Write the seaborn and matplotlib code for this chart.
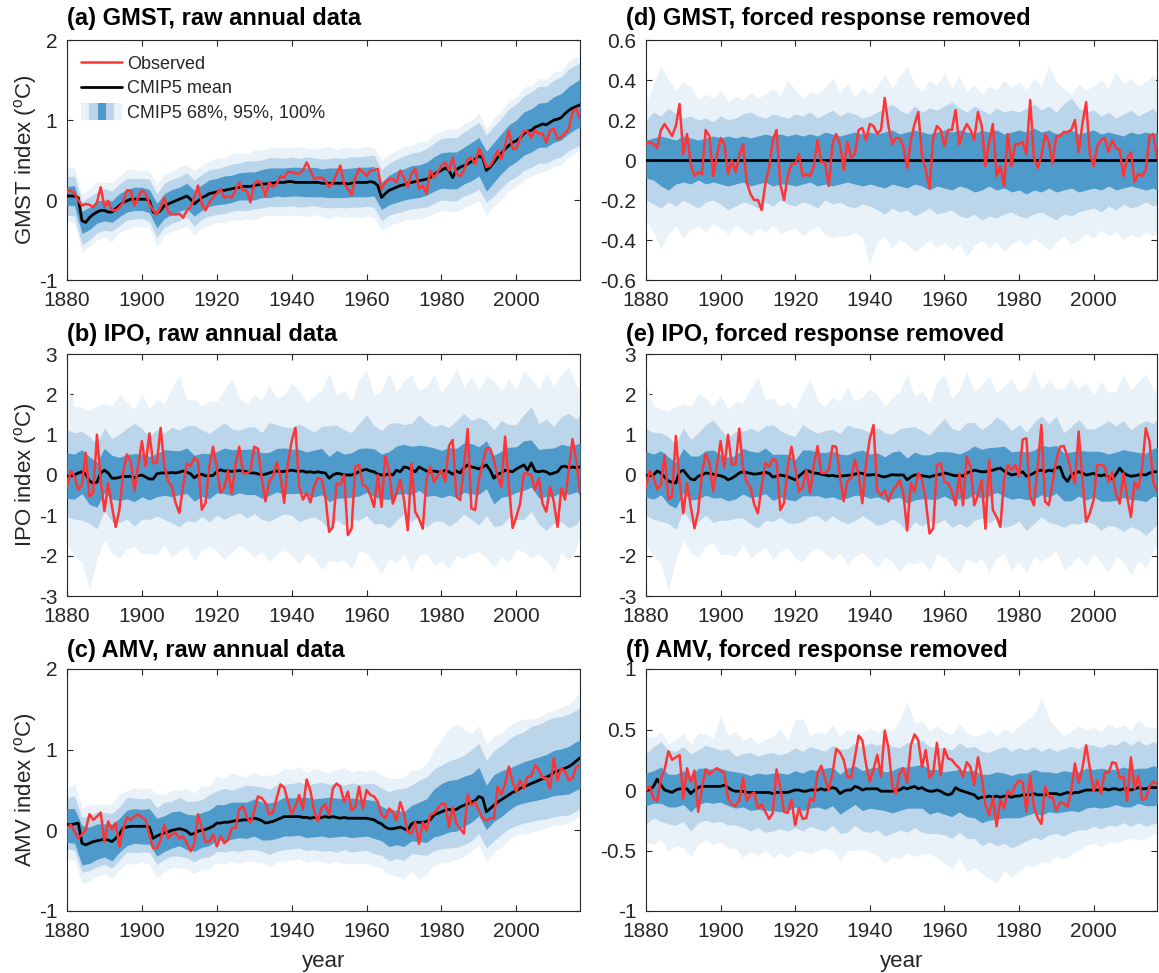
import numpy as np
import matplotlib
matplotlib.use("Agg")
import matplotlib.pyplot as plt
import seaborn as sns
from matplotlib.patches import Rectangle
from matplotlib.lines import Line2D
from matplotlib.legend_handler import HandlerBase
from matplotlib.ticker import FuncFormatter, MultipleLocator

# ---------------------------------------------------------------- data
years = np.arange(1880, 2018)
band_years = np.array(list(range(1880, 2017, 2)) + [2017])

# (a) GMST raw
a_obs = [0.10, 0.12, 0.08, 0.00, -0.07, -0.05, -0.06, -0.09, -0.03, 0.16,
         -0.09, -0.01, -0.13, -0.13, -0.09, -0.03, 0.12, 0.12, -0.07, 0.03,
         0.12, 0.08, -0.05, -0.13, -0.18, -0.09, 0.03, -0.15, -0.18, -0.18,
         -0.17, -0.22, -0.13, -0.09, 0.03, 0.18, -0.05, -0.13, -0.03, 0.03,
         0.08, 0.14, 0.03, 0.05, 0.03, 0.12, 0.22, 0.12, 0.12, -0.03,
         0.20, 0.24, 0.20, 0.05, 0.22, 0.16, 0.20, 0.30, 0.28, 0.35,
         0.35, 0.33, 0.33, 0.37, 0.47, 0.37, 0.26, 0.28, 0.28, 0.24,
         0.16, 0.22, 0.33, 0.43, 0.20, 0.14, 0.06, 0.28, 0.39, 0.35,
         0.30, 0.37, 0.37, 0.39, 0.14, 0.22, 0.26, 0.26, 0.22, 0.37,
         0.28, 0.16, 0.33, 0.39, 0.14, 0.18, 0.08, 0.37, 0.28, 0.35,
         0.43, 0.47, 0.37, 0.53, 0.33, 0.30, 0.37, 0.51, 0.53, 0.45,
         0.64, 0.55, 0.41, 0.43, 0.51, 0.62, 0.51, 0.68, 0.87, 0.64,
         0.64, 0.78, 0.86, 0.86, 0.78, 0.87, 0.83, 0.83, 0.72, 0.87,
         0.89, 0.76, 0.79, 0.83, 0.89, 1.10, 1.14, 1.01]
a_mean = [0.05, 0.05, 0.05, 0.03, -0.26, -0.28, -0.22, -0.18, -0.15, -0.13,
          -0.13, -0.15, -0.15, -0.11, -0.07, -0.03, -0.01, 0.01, 0.01, 0.01,
          0.01, 0.01, -0.01, -0.15, -0.17, -0.13, -0.07, -0.05, -0.03, -0.01,
          0.01, 0.03, 0.05, 0.01, -0.05, -0.01, 0.03, 0.05, 0.08, 0.09,
          0.10, 0.12, 0.12, 0.13, 0.14, 0.15, 0.16, 0.17, 0.17, 0.17,
          0.18, 0.19, 0.20, 0.20, 0.21, 0.21, 0.22, 0.22, 0.22, 0.23,
          0.23, 0.22, 0.22, 0.22, 0.22, 0.22, 0.22, 0.22, 0.21, 0.21,
          0.21, 0.21, 0.21, 0.21, 0.21, 0.20, 0.21, 0.22, 0.22, 0.22,
          0.22, 0.23, 0.22, 0.18, 0.03, 0.08, 0.12, 0.14, 0.16, 0.18,
          0.19, 0.21, 0.22, 0.23, 0.24, 0.25, 0.26, 0.28, 0.32, 0.35,
          0.37, 0.40, 0.37, 0.28, 0.38, 0.41, 0.43, 0.45, 0.48, 0.51,
          0.55, 0.53, 0.37, 0.41, 0.47, 0.53, 0.58, 0.64, 0.68, 0.72,
          0.74, 0.78, 0.83, 0.86, 0.87, 0.91, 0.93, 0.95, 0.94, 0.97,
          1.00, 1.01, 1.03, 1.08, 1.12, 1.15, 1.17, 1.19]
# band offsets above / below the ensemble mean, at band_years
a_hi68 = [0.12, 0.13, 0.12, 0.13, 0.14, 0.13, 0.14, 0.15, 0.14, 0.15,
          0.15, 0.14, 0.13, 0.15, 0.16, 0.15, 0.16, 0.17, 0.16, 0.17,
          0.17, 0.18, 0.17, 0.18, 0.18, 0.17, 0.18, 0.19, 0.18, 0.18,
          0.18, 0.19, 0.18, 0.19, 0.18, 0.19, 0.19, 0.18, 0.19, 0.19,
          0.19, 0.20, 0.19, 0.19, 0.20, 0.20, 0.21, 0.20, 0.21, 0.22,
          0.22, 0.23, 0.22, 0.23, 0.24, 0.23, 0.24, 0.25, 0.25, 0.26,
          0.26, 0.27, 0.27, 0.28, 0.28, 0.29, 0.30, 0.30, 0.31, 0.32]
a_lo68 = [0.12, 0.12, 0.16, 0.15, 0.14, 0.13, 0.13, 0.14, 0.14, 0.14,
          0.14, 0.15, 0.18, 0.16, 0.15, 0.15, 0.16, 0.15, 0.16, 0.16,
          0.16, 0.17, 0.17, 0.16, 0.17, 0.18, 0.17, 0.18, 0.17, 0.18,
          0.18, 0.17, 0.18, 0.18, 0.17, 0.18, 0.18, 0.18, 0.17, 0.18,
          0.18, 0.17, 0.15, 0.18, 0.19, 0.19, 0.20, 0.21, 0.20, 0.21,
          0.22, 0.23, 0.24, 0.23, 0.24, 0.25, 0.26, 0.25, 0.25, 0.26,
          0.26, 0.27, 0.27, 0.27, 0.28, 0.28, 0.28, 0.29, 0.28, 0.28]
a_hi95 = [0.24, 0.25, 0.24, 0.26, 0.25, 0.27, 0.26, 0.27, 0.28, 0.26,
          0.26, 0.27, 0.25, 0.28, 0.29, 0.28, 0.29, 0.30, 0.29, 0.30,
          0.29, 0.30, 0.31, 0.30, 0.32, 0.31, 0.30, 0.32, 0.31, 0.30,
          0.31, 0.30, 0.32, 0.31, 0.30, 0.31, 0.32, 0.31, 0.33, 0.32,
          0.33, 0.34, 0.35, 0.34, 0.35, 0.36, 0.37, 0.36, 0.38, 0.39,
          0.40, 0.41, 0.40, 0.42, 0.43, 0.42, 0.44, 0.45, 0.44, 0.46,
          0.46, 0.47, 0.48, 0.49, 0.48, 0.50, 0.51, 0.52, 0.52, 0.53]
a_lo95 = [0.24, 0.25, 0.30, 0.28, 0.26, 0.25, 0.24, 0.25, 0.24, 0.25,
          0.24, 0.26, 0.30, 0.27, 0.26, 0.27, 0.26, 0.28, 0.27, 0.28,
          0.28, 0.29, 0.28, 0.29, 0.30, 0.29, 0.30, 0.29, 0.30, 0.30,
          0.30, 0.31, 0.30, 0.29, 0.30, 0.31, 0.30, 0.31, 0.30, 0.31,
          0.30, 0.31, 0.29, 0.31, 0.32, 0.33, 0.33, 0.34, 0.35, 0.36,
          0.37, 0.38, 0.39, 0.38, 0.40, 0.41, 0.40, 0.42, 0.43, 0.44,
          0.45, 0.46, 0.46, 0.47, 0.48, 0.49, 0.49, 0.50, 0.51, 0.51]
a_hi100 = [0.36, 0.35, 0.33, 0.36, 0.38, 0.35, 0.37, 0.36, 0.39, 0.37,
           0.35, 0.38, 0.36, 0.40, 0.38, 0.41, 0.39, 0.42, 0.40, 0.41,
           0.43, 0.40, 0.44, 0.42, 0.41, 0.44, 0.42, 0.45, 0.43, 0.44,
           0.42, 0.45, 0.43, 0.41, 0.44, 0.46, 0.42, 0.45, 0.44, 0.43,
           0.45, 0.44, 0.47, 0.45, 0.46, 0.48, 0.46, 0.49, 0.47, 0.50,
           0.49, 0.52, 0.50, 0.53, 0.51, 0.54, 0.52, 0.55, 0.53, 0.56,
           0.55, 0.58, 0.56, 0.59, 0.57, 0.60, 0.58, 0.61, 0.62, 0.61]
a_lo100 = [0.32, 0.34, 0.40, 0.36, 0.35, 0.34, 0.37, 0.33, 0.36, 0.34,
           0.35, 0.33, 0.42, 0.37, 0.36, 0.38, 0.37, 0.39, 0.38, 0.40,
           0.38, 0.40, 0.39, 0.41, 0.40, 0.43, 0.41, 0.40, 0.42, 0.41,
           0.42, 0.41, 0.43, 0.40, 0.42, 0.44, 0.41, 0.43, 0.42, 0.44,
           0.42, 0.43, 0.41, 0.44, 0.45, 0.44, 0.46, 0.48, 0.47, 0.49,
           0.50, 0.51, 0.53, 0.52, 0.54, 0.55, 0.56, 0.55, 0.57, 0.56,
           0.57, 0.58, 0.57, 0.59, 0.58, 0.58, 0.59, 0.58, 0.57, 0.57]

# (b) IPO raw
b_obs = [-0.28, 0.10, -0.03, -0.36, -0.24, 0.55, -0.53, -0.44, 1.00, -0.11,
         -0.90, -0.20, -0.78, -1.29, -0.86, 0.05, 0.51, 0.34, -0.40, 0.22,
         0.84, 0.22, 1.03, 0.30, 0.30, 1.17, 0.22, -0.15, -0.28, -0.69,
         -0.94, -0.28, 0.29, 0.22, 0.43, 0.34, -0.86, -0.69, 0.22, 0.70,
         0.18, -0.44, -0.32, 0.10, -0.46, 0.26, 0.70, 0.05, 0.04, 0.10,
         0.70, 0.65, -0.07, -0.65, -0.15, -0.03, 0.32, -0.03, -0.69, 0.30,
         0.84, 1.17, -0.28, -0.61, -0.44, -0.68, -0.28, -0.07, -0.11, -0.53,
         -1.41, -1.29, -0.21, -0.25, 0.00, -1.49, -1.33, 0.21, 0.25, -0.25,
         -0.29, -0.50, -0.79, 0.00, -0.79, 0.46, 0.12, -0.71, -0.46, -0.12,
         -0.62, -1.37, 0.29, -0.91, -1.08, -1.33, -0.12, 0.21, -0.17, -0.02,
         0.12, -0.17, 0.72, 0.87, -0.54, -0.62, 0.21, 1.14, -0.83, -0.87,
         -0.12, 0.29, 0.66, 0.66, 0.37, -0.04, -0.29, 0.95, -0.25, -1.31,
         -1.04, -0.71, 0.04, 0.04, 0.00, -0.37, -0.08, -0.71, -0.91, -0.29,
         -0.66, -1.29, -0.33, -0.61, 0.12, 0.89, 0.37, -0.46]
b_mean = [-0.03, -0.02, 0.00, 0.05, 0.08, 0.02, -0.15, -0.20, -0.18, 0.05,
          0.12, 0.05, -0.08, -0.08, -0.06, -0.03, -0.04, -0.03, -0.07, -0.02,
          0.00, -0.05, -0.10, -0.10, 0.03, 0.05, 0.05, 0.05, 0.06, 0.05,
          0.07, 0.10, 0.07, 0.03, -0.07, 0.00, 0.02, -0.02, -0.02, -0.01,
          0.08, 0.13, 0.10, 0.10, 0.09, 0.10, 0.11, 0.10, 0.08, 0.05,
          0.05, 0.03, 0.00, 0.02, 0.05, 0.08, 0.10, 0.08, 0.09, 0.10,
          0.12, 0.10, 0.09, 0.10, 0.07, 0.08, 0.06, 0.08, 0.06, 0.05,
          -0.08, 0.00, 0.04, 0.03, 0.00, 0.00, 0.00, 0.04, 0.08, 0.12,
          0.14, 0.10, 0.08, 0.02, 0.00, 0.00, 0.03, 0.00, 0.12, 0.08,
          0.20, 0.18, 0.13, 0.08, 0.20, 0.15, 0.10, 0.08, 0.10, 0.08,
          0.06, 0.12, 0.08, 0.02, 0.10, 0.05, 0.18, 0.25, 0.20, 0.18,
          0.15, 0.20, 0.25, 0.12, -0.08, 0.02, 0.05, 0.12, 0.10, 0.08,
          0.15, 0.20, 0.25, 0.12, 0.30, 0.10, 0.08, 0.10, 0.08, 0.02,
          0.05, 0.08, 0.20, 0.22, 0.18, 0.20, 0.18, 0.20]
# IPO band offsets (same ensemble spread for raw and forced-removed IPO)
ipo_hi68 = [0.58, 0.52, 0.55, 0.60, 0.50, 0.54, 0.57, 0.50, 0.55, 0.60,
            0.52, 0.56, 0.50, 0.58, 0.55, 0.53, 0.60, 0.56, 0.52, 0.55,
            0.50, 0.57, 0.54, 0.52, 0.56, 0.60, 0.55, 0.51, 0.56, 0.58,
            0.52, 0.55, 0.50, 0.56, 0.60, 0.54, 0.57, 0.52, 0.55, 0.58,
            0.53, 0.57, 0.52, 0.55, 0.60, 0.56, 0.58, 0.54, 0.62, 0.57,
            0.55, 0.60, 0.56, 0.62, 0.58, 0.55, 0.60, 0.57, 0.54, 0.59,
            0.55, 0.60, 0.57, 0.55, 0.58, 0.62, 0.56, 0.54, 0.58, 0.60]
ipo_lo68 = [0.55, 0.60, 0.54, 0.58, 0.62, 0.56, 0.52, 0.57, 0.55, 0.59,
            0.54, 0.52, 0.57, 0.55, 0.60, 0.56, 0.53, 0.58, 0.55, 0.57,
            0.52, 0.56, 0.60, 0.55, 0.57, 0.53, 0.58, 0.56, 0.52, 0.55,
            0.58, 0.54, 0.57, 0.60, 0.55, 0.58, 0.62, 0.57, 0.55, 0.60,
            0.57, 0.62, 0.59, 0.64, 0.60, 0.66, 0.62, 0.58, 0.63, 0.60,
            0.62, 0.58, 0.65, 0.61, 0.67, 0.63, 0.59, 0.64, 0.60, 0.62,
            0.58, 0.63, 0.60, 0.65, 0.61, 0.58, 0.62, 0.66, 0.60, 0.63]
ipo_hi95 = [1.15, 1.05, 1.00, 1.10, 0.95, 1.05, 0.98, 1.08, 1.20, 1.35,
            1.15, 1.05, 1.10, 1.00, 1.12, 1.05, 1.15, 1.30, 1.10, 1.05,
            1.08, 1.20, 1.05, 1.00, 1.10, 1.15, 1.05, 1.25, 1.15, 1.10,
            1.05, 1.18, 1.10, 1.00, 1.15, 1.30, 1.20, 1.12, 1.05, 1.20,
            1.35, 1.15, 1.10, 1.25, 1.18, 1.05, 1.15, 1.30, 1.22, 1.10,
            1.20, 1.10, 1.25, 1.35, 1.15, 1.28, 1.10, 1.20, 1.30, 1.15,
            1.10, 1.25, 1.40, 1.20, 1.30, 1.15, 1.25, 1.35, 1.20, 1.30]
ipo_lo95 = [1.00, 1.10, 1.20, 1.05, 1.15, 1.00, 1.08, 1.12, 1.05, 1.20,
            1.10, 1.00, 1.05, 1.15, 1.25, 1.35, 1.20, 1.10, 1.05, 1.15,
            1.08, 1.20, 1.10, 1.05, 1.15, 1.00, 1.10, 1.20, 1.15, 1.05,
            1.12, 1.25, 1.15, 1.10, 1.20, 1.30, 1.15, 1.25, 1.10, 1.20,
            1.15, 1.30, 1.20, 1.35, 1.25, 1.15, 1.30, 1.20, 1.40, 1.25,
            1.20, 1.35, 1.25, 1.15, 1.30, 1.40, 1.25, 1.20, 1.30, 1.15,
            1.25, 1.35, 1.20, 1.30, 1.45, 1.25, 1.35, 1.50, 1.40, 1.30]
ipo_hi100 = [2.25, 1.70, 1.60, 1.75, 1.90, 1.65, 1.80, 2.05, 1.85, 1.70,
             2.00, 1.75, 1.85, 1.70, 2.10, 2.40, 1.80, 1.95, 1.70, 1.85,
             1.75, 2.00, 2.30, 1.80, 1.70, 1.95, 1.85, 2.20, 1.80, 1.90,
             2.15, 2.00, 1.75, 1.90, 2.05, 2.60, 1.95, 2.10, 1.85, 2.30,
             2.45, 1.90, 2.10, 2.50, 1.95, 2.15, 2.35, 1.90, 2.10, 2.40,
             2.00, 2.20, 2.55, 2.00, 2.25, 1.95, 2.20, 2.40, 2.05, 2.30,
             1.95, 2.35, 2.10, 2.05, 2.45, 2.15, 2.30, 2.50, 2.05, 1.95]
ipo_lo100 = [1.70, 2.00, 2.25, 2.70, 1.90, 1.75, 1.85, 2.00, 1.80, 1.70,
             1.95, 1.85, 2.00, 1.80, 2.10, 1.95, 1.85, 2.05, 1.90, 1.75,
             1.95, 2.20, 2.00, 1.85, 1.95, 2.10, 1.90, 2.20, 2.05, 1.95,
             2.10, 2.30, 2.00, 2.15, 2.40, 2.05, 2.20, 2.10, 2.35, 1.95,
             2.10, 2.25, 2.45, 2.10, 2.30, 2.15, 2.50, 2.20, 2.05, 2.35,
             2.20, 2.40, 2.10, 2.25, 2.15, 2.05, 2.30, 2.20, 2.10, 2.25,
             2.00, 2.15, 2.35, 2.05, 2.20, 2.45, 2.10, 2.30, 2.00, 1.70]

# (c) AMV raw
c_obs = [0.03, 0.07, -0.01, -0.10, -0.05, 0.01, 0.20, 0.13, 0.17, 0.22,
         -0.14, 0.11, 0.01, 0.09, -0.20, 0.01, 0.16, 0.13, 0.17, 0.20,
         0.16, 0.13, -0.05, -0.22, -0.22, -0.12, 0.07, -0.10, -0.05, -0.03,
         -0.10, -0.07, -0.16, -0.26, -0.16, 0.20, 0.03, -0.14, -0.14, -0.05,
         -0.20, -0.07, -0.16, -0.12, 0.03, 0.03, 0.26, 0.30, 0.17, 0.09,
         0.24, 0.42, 0.40, 0.34, 0.20, 0.22, 0.40, 0.57, 0.53, 0.36,
         0.20, 0.30, 0.44, 0.26, 0.63, 0.49, 0.24, 0.11, 0.28, 0.32,
         0.19, 0.52, 0.58, 0.54, 0.35, 0.48, 0.25, 0.29, 0.54, 0.27,
         0.50, 0.44, 0.42, 0.35, 0.19, 0.15, 0.27, 0.23, 0.12, 0.35,
         0.21, -0.02, -0.04, 0.10, -0.17, 0.10, 0.00, 0.19, 0.21, 0.27,
         0.33, 0.33, 0.04, 0.29, 0.08, 0.02, -0.04, 0.44, 0.31, 0.35,
         0.25, 0.15, 0.12, 0.15, 0.15, 0.54, 0.44, 0.58, 0.79, 0.60,
         0.48, 0.62, 0.52, 0.67, 0.67, 0.81, 0.75, 0.65, 0.65, 0.52,
         0.90, 0.62, 0.77, 0.73, 0.62, 0.65, 0.79, 0.81]
c_mean = [0.07, 0.07, 0.08, 0.09, -0.16, -0.18, -0.16, -0.14, -0.13, -0.12,
          -0.11, -0.12, -0.14, -0.10, -0.05, 0.03, 0.04, 0.05, 0.05, 0.05,
          0.05, 0.05, 0.04, -0.10, -0.07, -0.05, -0.03, -0.02, 0.00, 0.01,
          0.02, 0.01, -0.01, -0.05, -0.04, -0.01, 0.00, 0.01, 0.03, 0.05,
          0.09, 0.09, 0.10, 0.10, 0.11, 0.12, 0.12, 0.13, 0.13, 0.14,
          0.15, 0.14, 0.12, 0.09, 0.10, 0.11, 0.13, 0.15, 0.17, 0.17,
          0.17, 0.17, 0.17, 0.16, 0.16, 0.15, 0.16, 0.15, 0.16, 0.17,
          0.16, 0.17, 0.16, 0.15, 0.16, 0.15, 0.15, 0.15, 0.15, 0.15,
          0.15, 0.14, 0.13, 0.10, 0.08, 0.04, 0.02, 0.02, 0.03, 0.04,
          0.02, 0.00, 0.08, 0.10, 0.10, 0.10, 0.11, 0.13, 0.19, 0.21,
          0.23, 0.25, 0.26, 0.25, 0.26, 0.29, 0.31, 0.33, 0.35, 0.37,
          0.42, 0.40, 0.23, 0.27, 0.31, 0.35, 0.38, 0.41, 0.44, 0.47,
          0.49, 0.52, 0.54, 0.56, 0.58, 0.60, 0.62, 0.64, 0.66, 0.68,
          0.72, 0.73, 0.75, 0.77, 0.79, 0.82, 0.86, 0.90]
c_hi68 = [0.20, 0.19, 0.22, 0.20, 0.21, 0.19, 0.22, 0.20, 0.21, 0.22,
          0.21, 0.23, 0.22, 0.21, 0.23, 0.22, 0.21, 0.23, 0.22, 0.22,
          0.23, 0.22, 0.24, 0.23, 0.22, 0.24, 0.23, 0.24, 0.23, 0.24,
          0.23, 0.24, 0.25, 0.23, 0.24, 0.25, 0.24, 0.23, 0.25, 0.24,
          0.23, 0.24, 0.22, 0.23, 0.22, 0.21, 0.23, 0.25, 0.28, 0.32,
          0.35, 0.36, 0.37, 0.36, 0.35, 0.36, 0.33, 0.38, 0.36, 0.33,
          0.32, 0.31, 0.30, 0.29, 0.28, 0.27, 0.26, 0.25, 0.24, 0.22]
c_lo68 = [0.22, 0.24, 0.27, 0.25, 0.23, 0.22, 0.24, 0.22, 0.23, 0.21,
          0.22, 0.21, 0.25, 0.23, 0.22, 0.21, 0.23, 0.22, 0.21, 0.22,
          0.21, 0.23, 0.22, 0.21, 0.23, 0.22, 0.24, 0.22, 0.23, 0.24,
          0.24, 0.23, 0.25, 0.24, 0.23, 0.25, 0.24, 0.23, 0.24, 0.23,
          0.22, 0.23, 0.21, 0.22, 0.21, 0.22, 0.21, 0.24, 0.26, 0.27,
          0.29, 0.28, 0.27, 0.26, 0.25, 0.24, 0.22, 0.20, 0.21, 0.19,
          0.18, 0.20, 0.22, 0.24, 0.26, 0.29, 0.31, 0.34, 0.36, 0.38]
c_hi95 = [0.33, 0.35, 0.32, 0.34, 0.36, 0.33, 0.35, 0.34, 0.37, 0.35,
          0.34, 0.36, 0.35, 0.38, 0.36, 0.39, 0.37, 0.40, 0.38, 0.41,
          0.40, 0.42, 0.39, 0.41, 0.43, 0.40, 0.42, 0.41, 0.43, 0.40,
          0.41, 0.43, 0.40, 0.42, 0.44, 0.41, 0.43, 0.40, 0.44, 0.42,
          0.43, 0.45, 0.44, 0.46, 0.48, 0.50, 0.48, 0.52, 0.55, 0.57,
          0.58, 0.60, 0.63, 0.62, 0.65, 0.66, 0.64, 0.68, 0.67, 0.69,
          0.70, 0.68, 0.71, 0.69, 0.70, 0.68, 0.66, 0.65, 0.63, 0.62]
c_lo95 = [0.30, 0.33, 0.36, 0.34, 0.32, 0.31, 0.33, 0.32, 0.31, 0.33,
          0.32, 0.31, 0.35, 0.33, 0.32, 0.34, 0.33, 0.35, 0.34, 0.36,
          0.35, 0.37, 0.36, 0.38, 0.37, 0.39, 0.38, 0.40, 0.39, 0.41,
          0.40, 0.39, 0.41, 0.40, 0.42, 0.41, 0.43, 0.40, 0.42, 0.41,
          0.40, 0.42, 0.39, 0.40, 0.38, 0.39, 0.37, 0.40, 0.42, 0.44,
          0.46, 0.48, 0.47, 0.49, 0.48, 0.46, 0.45, 0.44, 0.43, 0.42,
          0.43, 0.45, 0.47, 0.49, 0.52, 0.55, 0.57, 0.60, 0.62, 0.63]
c_hi100 = [0.45, 0.50, 0.44, 0.48, 0.46, 0.43, 0.47, 0.50, 0.45, 0.48,
           0.46, 0.49, 0.52, 0.47, 0.50, 0.48, 0.53, 0.50, 0.55, 0.52,
           0.58, 0.54, 0.60, 0.56, 0.53, 0.57, 0.55, 0.59, 0.56, 0.60,
           0.58, 0.62, 0.56, 0.60, 0.58, 0.55, 0.59, 0.62, 0.57, 0.60,
           0.58, 0.62, 0.60, 0.63, 0.61, 0.64, 0.67, 0.65, 0.72, 0.80,
           0.90, 1.00, 1.06, 0.95, 0.85, 0.88, 0.84, 0.86, 0.82, 0.85,
           0.86, 0.84, 0.80, 0.78, 0.80, 0.76, 0.78, 0.77, 0.80, 0.81]
c_lo100 = [0.42, 0.45, 0.50, 0.47, 0.44, 0.43, 0.46, 0.44, 0.45, 0.47,
           0.44, 0.46, 0.52, 0.48, 0.46, 0.49, 0.47, 0.50, 0.48, 0.51,
           0.49, 0.52, 0.50, 0.53, 0.51, 0.54, 0.52, 0.55, 0.53, 0.55,
           0.54, 0.52, 0.56, 0.53, 0.55, 0.57, 0.54, 0.58, 0.55, 0.57,
           0.56, 0.58, 0.55, 0.57, 0.60, 0.62, 0.58, 0.70, 0.65, 0.62,
           0.63, 0.65, 0.62, 0.64, 0.61, 0.60, 0.62, 0.58, 0.59, 0.56,
           0.55, 0.58, 0.60, 0.62, 0.63, 0.66, 0.68, 0.70, 0.71, 0.71]

# (d) GMST, forced response removed
d_obs = [0.08, 0.09, 0.08, 0.06, 0.15, 0.18, 0.15, 0.12, 0.17, 0.28,
         0.03, 0.13, -0.02, -0.08, -0.06, -0.07, 0.15, 0.12, -0.08, 0.02,
         0.11, 0.08, -0.07, 0.00, -0.06, 0.02, 0.08, -0.11, -0.17, -0.20,
         -0.20, -0.25, -0.12, -0.04, 0.10, 0.15, -0.12, -0.20, -0.08, -0.02,
         -0.02, 0.03, -0.08, -0.07, -0.08, -0.03, 0.10, -0.01, -0.01, -0.13,
         0.08, 0.13, 0.08, -0.05, 0.09, 0.01, 0.03, 0.15, 0.16, 0.10,
         0.18, 0.17, 0.13, 0.15, 0.31, 0.17, 0.08, 0.11, 0.11, 0.07,
         -0.04, 0.10, 0.18, 0.24, 0.02, -0.05, -0.14, 0.11, 0.17, 0.15,
         0.07, 0.15, 0.15, 0.25, 0.08, 0.14, 0.18, 0.15, 0.10, 0.24,
         0.17, -0.03, 0.09, 0.18, -0.08, -0.03, -0.13, 0.13, -0.03, 0.08,
         0.08, 0.09, 0.03, 0.30, 0.01, -0.04, 0.02, 0.13, 0.09, -0.02,
         0.12, 0.12, 0.14, 0.14, 0.15, 0.20, 0.04, 0.18, 0.29, 0.03,
         -0.03, 0.07, 0.10, 0.11, 0.04, 0.10, 0.06, 0.05, -0.08, 0.01,
         0.04, -0.11, -0.07, -0.08, -0.05, 0.12, 0.13, 0.01]
d_mean = [0.0] * 138
d_hi68 = [0.10, 0.11, 0.12, 0.11, 0.10, 0.12, 0.11, 0.10, 0.11, 0.12,
          0.11, 0.12, 0.11, 0.12, 0.11, 0.12, 0.13, 0.12, 0.13, 0.12,
          0.13, 0.12, 0.13, 0.12, 0.14, 0.13, 0.12, 0.13, 0.14, 0.13,
          0.14, 0.13, 0.14, 0.15, 0.13, 0.14, 0.15, 0.14, 0.13, 0.14,
          0.15, 0.14, 0.15, 0.14, 0.13, 0.15, 0.14, 0.15, 0.13, 0.14,
          0.15, 0.14, 0.16, 0.14, 0.15, 0.13, 0.14, 0.15, 0.13, 0.14,
          0.15, 0.13, 0.14, 0.13, 0.12, 0.14, 0.13, 0.14, 0.13, 0.14]
d_lo68 = [0.09, 0.10, 0.13, 0.15, 0.12, 0.11, 0.12, 0.10, 0.12, 0.11,
          0.12, 0.13, 0.12, 0.11, 0.13, 0.12, 0.11, 0.13, 0.12, 0.12,
          0.13, 0.12, 0.11, 0.13, 0.12, 0.13, 0.12, 0.11, 0.12, 0.13,
          0.12, 0.13, 0.14, 0.12, 0.13, 0.14, 0.12, 0.13, 0.15, 0.13,
          0.14, 0.15, 0.13, 0.14, 0.16, 0.15, 0.13, 0.15, 0.14, 0.16,
          0.15, 0.17, 0.15, 0.16, 0.14, 0.16, 0.15, 0.14, 0.16, 0.15,
          0.14, 0.15, 0.13, 0.15, 0.14, 0.13, 0.14, 0.15, 0.14, 0.15]
d_hi95 = [0.20, 0.24, 0.22, 0.26, 0.23, 0.21, 0.22, 0.20, 0.21, 0.19,
          0.22, 0.20, 0.21, 0.23, 0.24, 0.22, 0.21, 0.23, 0.22, 0.21,
          0.23, 0.22, 0.24, 0.21, 0.23, 0.25, 0.22, 0.24, 0.23, 0.21,
          0.22, 0.24, 0.26, 0.28, 0.25, 0.23, 0.27, 0.24, 0.26, 0.25,
          0.27, 0.29, 0.26, 0.24, 0.27, 0.25, 0.23, 0.26, 0.24, 0.25,
          0.24, 0.26, 0.28, 0.25, 0.27, 0.24, 0.28, 0.31, 0.26, 0.24,
          0.25, 0.22, 0.24, 0.21, 0.23, 0.25, 0.22, 0.24, 0.26, 0.23]
d_lo95 = [0.20, 0.22, 0.24, 0.21, 0.23, 0.20, 0.22, 0.24, 0.21, 0.20,
          0.22, 0.25, 0.23, 0.21, 0.22, 0.24, 0.21, 0.23, 0.20, 0.22,
          0.23, 0.21, 0.22, 0.24, 0.20, 0.22, 0.21, 0.23, 0.24, 0.22,
          0.23, 0.25, 0.27, 0.24, 0.26, 0.25, 0.28, 0.26, 0.24, 0.27,
          0.26, 0.25, 0.28, 0.29, 0.27, 0.30, 0.28, 0.29, 0.27, 0.26,
          0.28, 0.29, 0.27, 0.26, 0.28, 0.30, 0.27, 0.28, 0.26, 0.25,
          0.24, 0.26, 0.23, 0.25, 0.22, 0.24, 0.23, 0.21, 0.23, 0.22]
d_hi100 = [0.28, 0.38, 0.47, 0.40, 0.35, 0.39, 0.37, 0.30, 0.33, 0.31,
           0.35, 0.29, 0.32, 0.30, 0.34, 0.31, 0.33, 0.36, 0.32, 0.40,
           0.35, 0.31, 0.34, 0.33, 0.36, 0.41, 0.34, 0.38, 0.32, 0.36,
           0.33, 0.37, 0.43, 0.36, 0.42, 0.47, 0.38, 0.34, 0.40, 0.37,
           0.44, 0.36, 0.42, 0.34, 0.38, 0.33, 0.37, 0.35, 0.40, 0.36,
           0.39, 0.35, 0.41, 0.37, 0.48, 0.39, 0.36, 0.33, 0.38, 0.35,
           0.37, 0.40, 0.36, 0.44, 0.38, 0.41, 0.37, 0.39, 0.43, 0.38]
d_lo100 = [0.30, 0.36, 0.44, 0.37, 0.33, 0.39, 0.35, 0.33, 0.36, 0.32,
           0.34, 0.37, 0.33, 0.35, 0.38, 0.34, 0.36, 0.33, 0.37, 0.35,
           0.34, 0.38, 0.35, 0.33, 0.37, 0.39, 0.38, 0.38, 0.36, 0.39,
           0.52, 0.41, 0.38, 0.44, 0.40, 0.42, 0.46, 0.43, 0.40, 0.44,
           0.41, 0.45, 0.42, 0.48, 0.43, 0.40, 0.44, 0.41, 0.46, 0.42,
           0.40, 0.43, 0.39, 0.42, 0.45, 0.41, 0.38, 0.42, 0.40, 0.37,
           0.39, 0.35, 0.38, 0.36, 0.40, 0.37, 0.39, 0.36, 0.38, 0.35]

# (e) IPO, forced response removed
e_obs = [-0.28, 0.10, -0.05, -0.36, -0.24, 0.50, -0.60, -0.53, 0.97, -0.15,
         -0.95, -0.20, -0.78, -1.32, -0.90, 0.05, 0.53, 0.30, -0.40, 0.22,
         0.84, 0.18, 1.00, 0.26, 0.26, 1.15, 0.18, -0.18, -0.30, -0.72,
         -0.95, -0.28, 0.30, 0.20, 0.40, 0.35, -0.87, -0.70, 0.22, 0.70,
         0.18, -0.42, -0.30, 0.12, -0.45, 0.26, 0.72, 0.05, 0.05, 0.12,
         0.72, 0.70, -0.03, -0.65, -0.15, -0.08, 0.38, 0.00, -0.70, 0.30,
         0.90, 1.24, -0.40, -0.50, -0.38, -0.66, -0.40, -0.28, -0.12, -0.45,
         -1.37, -0.20, -0.42, 0.05, -0.12, -0.62, -1.45, -1.32, 0.25, 0.29,
         -0.17, -0.20, -0.42, -0.75, 0.04, -0.75, 0.46, 0.21, -0.75, -0.50,
         -0.12, -1.33, 0.38, -0.87, -1.04, -1.29, -0.12, 0.25, 0.12, 0.25,
         -0.04, 0.88, 0.91, -0.54, -0.75, 0.21, 1.24, -0.66, -0.75, -0.21,
         0.37, 0.70, 0.72, 0.46, 0.08, -0.21, 1.08, -0.12, -1.16, -0.95,
         -0.62, 0.25, 0.25, 0.21, -0.17, 0.08, -0.46, -0.71, 0.04, -0.54,
         -1.04, -0.17, -0.33, 0.17, 1.16, 0.83, -0.17, -0.40]
e_mean = [0.00, -0.02, 0.00, 0.10, 0.05, -0.05, -0.15, -0.18, -0.20, 0.08,
          0.12, 0.00, -0.10, -0.12, -0.03, 0.00, 0.05, 0.04, 0.02, 0.00,
          -0.02, -0.05, -0.12, -0.08, -0.02, 0.05, 0.08, 0.06, 0.04, 0.02,
          0.03, 0.05, 0.07, 0.04, -0.05, -0.03, 0.00, -0.02, -0.04, -0.08,
          -0.12, -0.03, 0.05, 0.12, 0.08, 0.05, 0.04, 0.02, 0.00, -0.02,
          -0.01, -0.03, -0.03, -0.02, -0.01, 0.00, 0.02, 0.05, 0.04, 0.00,
          0.00, 0.01, 0.00, -0.03, -0.05, -0.02, 0.01, 0.00, 0.00, 0.00,
          -0.12, -0.05, 0.00, 0.00, -0.02, -0.03, -0.05, -0.02, 0.00, 0.02,
          0.05, 0.03, 0.00, -0.02, 0.00, -0.03, 0.05, 0.08, 0.12, 0.10,
          0.08, 0.08, 0.10, 0.12, 0.15, 0.17, 0.10, 0.05, 0.00, 0.02,
          0.05, 0.08, -0.03, 0.00, 0.05, 0.10, 0.12, 0.08, 0.12, 0.10,
          0.18, 0.20, -0.05, -0.16, 0.00, 0.05, 0.08, 0.05, 0.00, 0.02,
          0.04, 0.00, -0.02, 0.01, -0.05, -0.10, 0.02, 0.17, 0.05, 0.00,
          -0.03, -0.02, 0.00, 0.01, 0.00, 0.05, 0.08, 0.08]

# (f) AMV, forced response removed
f_obs = [0.00, 0.03, -0.07, -0.09, 0.10, 0.17, 0.32, 0.25, 0.27, 0.29,
         -0.07, 0.18, 0.07, 0.16, -0.18, 0.02, 0.17, 0.13, 0.16, 0.18,
         0.16, 0.14, -0.07, -0.12, -0.13, -0.09, 0.10, -0.09, -0.04, -0.02,
         -0.15, -0.12, -0.18, -0.24, -0.19, 0.17, 0.02, -0.18, -0.19, -0.08,
         -0.29, -0.15, -0.24, -0.23, -0.07, -0.09, 0.14, 0.20, 0.09, 0.00,
         0.14, 0.34, 0.31, 0.25, 0.11, 0.10, 0.27, 0.45, 0.41, 0.21,
         0.07, 0.17, 0.29, 0.11, 0.49, 0.35, 0.04, -0.03, 0.14, 0.18,
         0.06, 0.37, 0.46, 0.41, 0.19, 0.33, 0.10, 0.14, 0.39, 0.12,
         0.34, 0.26, 0.25, 0.21, 0.18, 0.11, 0.23, 0.19, 0.04, 0.27,
         0.11, -0.12, -0.21, -0.06, -0.30, -0.08, -0.15, -0.01, -0.04, 0.04,
         0.08, 0.06, -0.18, 0.12, -0.14, -0.23, -0.28, 0.03, -0.06, -0.06,
         -0.17, -0.10, -0.11, -0.14, -0.01, 0.22, 0.06, 0.18, 0.37, 0.18,
         -0.01, 0.08, -0.03, 0.15, 0.14, 0.23, 0.22, 0.10, 0.11, -0.09,
         0.27, 0.01, 0.12, -0.08, -0.07, 0.03, 0.07, 0.05]
f_mean = [0.00, 0.00, 0.03, 0.09, 0.04, 0.00, -0.01, -0.02, 0.00, 0.01,
          0.01, 0.01, -0.03, 0.00, 0.02, 0.03, 0.03, 0.03, 0.03, 0.03,
          0.03, 0.04, 0.02, 0.00, -0.01, -0.01, -0.01, -0.02, -0.02, -0.02,
          -0.02, -0.02, -0.02, -0.02, -0.03, -0.02, -0.02, -0.02, -0.02, -0.01,
          0.00, 0.00, -0.01, -0.01, 0.00, 0.00, 0.00, 0.01, 0.00, 0.01,
          0.02, 0.01, -0.03, -0.01, 0.00, 0.00, 0.03, 0.02, 0.00, 0.01,
          0.01, 0.01, 0.01, -0.01, -0.01, -0.01, -0.01, 0.00, 0.00, 0.02,
          0.01, 0.02, 0.03, 0.01, 0.02, 0.00, -0.01, -0.01, 0.00, -0.01,
          -0.03, -0.04, -0.03, 0.02, 0.00, -0.01, -0.02, -0.03, -0.04, -0.07,
          -0.06, -0.06, -0.05, -0.06, -0.05, -0.06, -0.05, -0.05, -0.06, -0.05,
          -0.05, -0.04, -0.04, -0.04, -0.03, -0.04, -0.04, -0.04, -0.03, -0.03,
          -0.03, -0.04, -0.03, -0.02, -0.03, -0.02, -0.02, -0.01, 0.00, 0.00,
          0.00, 0.00, 0.00, 0.01, 0.00, 0.01, 0.01, 0.00, 0.01, 0.01,
          0.00, 0.01, 0.02, 0.01, 0.01, 0.02, 0.02, 0.02]
f_hi68 = [0.14, 0.13, 0.15, 0.14, 0.13, 0.15, 0.14, 0.16, 0.15, 0.14,
          0.15, 0.14, 0.16, 0.15, 0.14, 0.16, 0.15, 0.17, 0.16, 0.15,
          0.16, 0.15, 0.17, 0.16, 0.18, 0.17, 0.16, 0.18, 0.17, 0.16,
          0.17, 0.18, 0.16, 0.17, 0.19, 0.18, 0.17, 0.19, 0.18, 0.17,
          0.18, 0.19, 0.17, 0.18, 0.20, 0.19, 0.18, 0.20, 0.19, 0.18,
          0.19, 0.18, 0.20, 0.19, 0.18, 0.17, 0.19, 0.18, 0.17, 0.18,
          0.17, 0.18, 0.17, 0.16, 0.18, 0.17, 0.16, 0.17, 0.18, 0.17]
f_lo68 = [0.13, 0.14, 0.15, 0.13, 0.14, 0.13, 0.15, 0.14, 0.13, 0.14,
          0.13, 0.15, 0.14, 0.13, 0.15, 0.14, 0.15, 0.14, 0.16, 0.15,
          0.14, 0.16, 0.15, 0.14, 0.16, 0.15, 0.17, 0.16, 0.15, 0.17,
          0.16, 0.17, 0.16, 0.18, 0.17, 0.16, 0.18, 0.17, 0.19, 0.18,
          0.17, 0.19, 0.18, 0.20, 0.19, 0.21, 0.20, 0.19, 0.18, 0.17,
          0.18, 0.17, 0.16, 0.17, 0.15, 0.16, 0.15, 0.14, 0.16, 0.15,
          0.14, 0.15, 0.14, 0.13, 0.15, 0.14, 0.13, 0.14, 0.15, 0.14]
f_hi95 = [0.30, 0.33, 0.36, 0.34, 0.32, 0.35, 0.33, 0.31, 0.34, 0.32,
          0.30, 0.32, 0.29, 0.31, 0.33, 0.30, 0.32, 0.34, 0.31, 0.33,
          0.35, 0.33, 0.36, 0.34, 0.32, 0.35, 0.37, 0.34, 0.36, 0.35,
          0.38, 0.36, 0.40, 0.37, 0.35, 0.38, 0.36, 0.39, 0.37, 0.35,
          0.38, 0.36, 0.39, 0.37, 0.40, 0.38, 0.36, 0.39, 0.41, 0.38,
          0.40, 0.37, 0.39, 0.36, 0.38, 0.35, 0.37, 0.39, 0.36, 0.38,
          0.37, 0.35, 0.38, 0.36, 0.40, 0.37, 0.39, 0.36, 0.38, 0.37]
f_lo95 = [0.28, 0.26, 0.30, 0.27, 0.29, 0.27, 0.31, 0.29, 0.28, 0.30,
          0.29, 0.31, 0.28, 0.30, 0.32, 0.29, 0.33, 0.31, 0.30, 0.32,
          0.31, 0.33, 0.30, 0.32, 0.34, 0.31, 0.33, 0.35, 0.32, 0.34,
          0.36, 0.34, 0.37, 0.35, 0.33, 0.36, 0.34, 0.37, 0.35, 0.36,
          0.34, 0.37, 0.35, 0.38, 0.36, 0.40, 0.38, 0.41, 0.39, 0.42,
          0.40, 0.38, 0.36, 0.37, 0.34, 0.33, 0.35, 0.32, 0.31, 0.33,
          0.30, 0.32, 0.29, 0.31, 0.28, 0.30, 0.29, 0.31, 0.30, 0.29]
f_hi100 = [0.45, 0.40, 0.44, 0.39, 0.42, 0.46, 0.41, 0.45, 0.43, 0.40,
           0.58, 0.43, 0.50, 0.42, 0.46, 0.40, 0.44, 0.47, 0.52, 0.43,
           0.58, 0.60, 0.45, 0.48, 0.46, 0.52, 0.47, 0.50, 0.46, 0.48,
           0.50, 0.47, 0.53, 0.49, 0.58, 0.72, 0.52, 0.55, 0.50, 0.53,
           0.51, 0.49, 0.54, 0.50, 0.48, 0.52, 0.55, 0.50, 0.56, 0.53,
           0.58, 0.62, 0.65, 0.80, 0.62, 0.54, 0.48, 0.52, 0.55, 0.50,
           0.52, 0.48, 0.55, 0.50, 0.53, 0.49, 0.56, 0.51, 0.50, 0.48]
f_lo100 = [0.43, 0.48, 0.45, 0.50, 0.46, 0.49, 0.52, 0.47, 0.44, 0.48,
           0.46, 0.50, 0.47, 0.55, 0.49, 0.52, 0.48, 0.53, 0.50, 0.54,
           0.51, 0.49, 0.53, 0.50, 0.48, 0.52, 0.55, 0.50, 0.53, 0.49,
           0.52, 0.55, 0.60, 0.54, 0.57, 0.53, 0.58, 0.55, 0.52, 0.56,
           0.58, 0.62, 0.56, 0.65, 0.60, 0.63, 0.68, 0.72, 0.62, 0.66,
           0.62, 0.58, 0.60, 0.55, 0.57, 0.52, 0.54, 0.50, 0.48, 0.46,
           0.44, 0.47, 0.43, 0.45, 0.42, 0.40, 0.43, 0.41, 0.39, 0.38]

titles = ["(a) GMST, raw annual data", "(b) IPO, raw annual data",
          "(c) AMV, raw annual data", "(d) GMST, forced response removed",
          "(e) IPO, forced response removed", "(f) AMV, forced response removed"]
ylabels = ["GMST index ($^{o}$C)", "IPO index ($^{o}$C)", "AMV index ($^{o}$C)"]
legend_labels = ["Observed", "CMIP5 mean", "CMIP5 68%, 95%, 100%"]

# ---------------------------------------------------------------- style
sns.set_theme(style="ticks")
plt.rcParams["font.family"] = ["Liberation Sans", "DejaVu Sans"]
plt.rcParams["mathtext.fontset"] = "custom"
plt.rcParams["mathtext.rm"] = "Liberation Sans"
plt.rcParams["mathtext.default"] = "regular"
plt.rcParams["axes.unicode_minus"] = False

C100 = "#EAF2F9"
C95 = "#BBD6EB"
C68 = "#4E9BCB"
RED = "#FF3535"
AXC = "#262626"

panels = [
    dict(obs=a_obs, mean=a_mean, bands=(a_hi100, a_lo100, a_hi95, a_lo95, a_hi68, a_lo68),
         ylim=(-1, 2), step=1.0),
    dict(obs=b_obs, mean=b_mean, bands=(ipo_hi100, ipo_lo100, ipo_hi95, ipo_lo95, ipo_hi68, ipo_lo68),
         ylim=(-3, 3), step=1.0),
    dict(obs=c_obs, mean=c_mean, bands=(c_hi100, c_lo100, c_hi95, c_lo95, c_hi68, c_lo68),
         ylim=(-1, 2), step=1.0),
    dict(obs=d_obs, mean=d_mean, bands=(d_hi100, d_lo100, d_hi95, d_lo95, d_hi68, d_lo68),
         ylim=(-0.6, 0.6), step=0.2),
    dict(obs=e_obs, mean=e_mean, bands=(ipo_hi100, ipo_lo100, ipo_hi95, ipo_lo95, ipo_hi68, ipo_lo68),
         ylim=(-3, 3), step=1.0),
    dict(obs=f_obs, mean=f_mean, bands=(f_hi100, f_lo100, f_hi95, f_lo95, f_hi68, f_lo68),
         ylim=(-1, 1), step=0.5),
]

for p in panels:
    assert len(p["obs"]) == len(years), len(p["obs"])
    assert len(p["mean"]) == len(years), len(p["mean"])
    for b in p["bands"]:
        assert len(b) == len(band_years), len(b)

W, H = 1159, 973
fig = plt.figure(figsize=(W / 100, H / 100), dpi=100)

col_x = [(67, 580), (646, 1157)]
row_y = [(40, 280), (354, 596), (669, 911)]
title_x = [67, 626]
title_y = [19, 335, 651]

fmt = FuncFormatter(lambda v, pos: f"{round(v, 6) + 0.0:g}")

band_idx = band_years - years[0]

class BandHandler(HandlerBase):
    def create_artists(self, legend, orig_handle, xdescent, ydescent,
                       width, height, fontsize, trans):
        arts = []
        x0 = -xdescent
        y0 = -ydescent - 0.15 * height
        hh = height * 1.3
        for frac, col in [(1.0, C100), (0.62, C95), (0.2, C68)]:
            w = width * frac
            r = Rectangle((x0 + (width - w) / 2, y0), w, hh,
                          facecolor=col, edgecolor="none", transform=trans)
            arts.append(r)
        return arts

class BandKey:
    pass

for i, p in enumerate(panels):
    col, row = divmod(i, 3)
    x0, x1 = col_x[col]
    y0, y1 = row_y[row]
    ax = fig.add_axes([x0 / W, 1 - y1 / H, (x1 - x0) / W, (y1 - y0) / H])

    mean = np.asarray(p["mean"])
    mb = mean[band_idx]
    hi100, lo100, hi95, lo95, hi68, lo68 = [np.asarray(b) for b in p["bands"]]
    ax.fill_between(band_years, mb - lo100, mb + hi100, color=C100, lw=0, zorder=1)
    ax.fill_between(band_years, mb - lo95, mb + hi95, color=C95, lw=0, zorder=2)
    ax.fill_between(band_years, mb - lo68, mb + hi68, color=C68, lw=0, zorder=3)

    sns.lineplot(x=years, y=mean, ax=ax, color="black", linewidth=2.0,
                 zorder=4, legend=False)
    sns.lineplot(x=years, y=np.asarray(p["obs"]), ax=ax, color=RED,
                 linewidth=1.8, zorder=5, legend=False)

    ax.set_xlim(1880, 2017)
    ax.set_ylim(*p["ylim"])
    ax.xaxis.set_major_locator(MultipleLocator(20))
    ax.yaxis.set_major_locator(MultipleLocator(p["step"]))
    ax.yaxis.set_major_formatter(fmt)
    ax.tick_params(direction="in", top=True, right=True, length=4, width=0.8,
                   labelsize=15, colors=AXC)
    ax.tick_params(axis="x", pad=8)
    ax.tick_params(axis="y", pad=7)
    for s in ax.spines.values():
        s.set_visible(True)
        s.set_color(AXC)
        s.set_linewidth(0.8)
    ax.set_xlabel("year" if row == 2 else "", fontsize=16, color=AXC, labelpad=7)
    if col == 0:
        ax.set_ylabel(ylabels[row], fontsize=16, color=AXC)
        ax.yaxis.set_label_coords((39 - x0) / (x1 - x0), 0.5)
    else:
        ax.set_ylabel("")
    fig.text(title_x[col] / W, 1 - title_y[row] / H, titles[i], fontsize=17,
             fontweight="bold", ha="left", va="center", color="black")

    if i == 0:
        handles = [Line2D([], [], color=RED, lw=1.8),
                   Line2D([], [], color="black", lw=2.0),
                   BandKey()]
        ax.legend(handles, legend_labels, handler_map={BandKey: BandHandler()},
                  loc="upper left", bbox_to_anchor=(0.028, 0.935), frameon=False,
                  fontsize=13, handlelength=2.25, handletextpad=0.3,
                  labelspacing=0.42, borderpad=0, borderaxespad=0)

fig.savefig("out.png", dpi=100)
